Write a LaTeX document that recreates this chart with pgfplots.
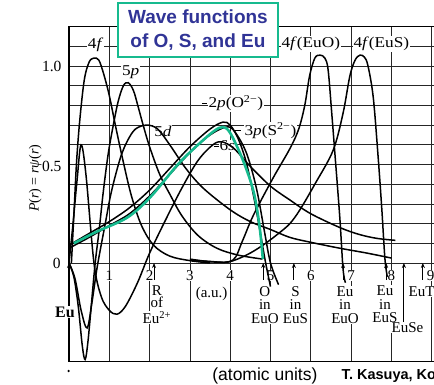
\documentclass[border=0pt]{standalone}
\usepackage{pgfplots}
\pgfplotsset{compat=1.18}
\usepackage{graphicx}
\usepackage{fontspec}
\setmainfont{Liberation Serif}
\newfontfamily\arial{Liberation Sans}
\usetikzlibrary{arrows.meta}
\definecolor{tealg}{RGB}{22,186,142}
\definecolor{tblue}{RGB}{48,52,150}
\newcommand\wide[1]{\scalebox{1.15}[1]{#1}}
\begin{document}
\begin{tikzpicture}
\begin{axis}[
  x=40.3pt, y=197pt,
  xmin=0, xmax=9.4, ymin=-0.5, ymax=1.2,
  xtick={0,1,2,3,4,5,6,7,8,9},
  ytick={0,0.1,0.2,0.3,0.4,0.5,0.6,0.7,0.8,0.9,1.0,1.1,1.2},
  xticklabels={}, yticklabels={},
  major tick length=0pt,
  grid=major,
  major grid style={black!85, line width=0.7pt},
  axis line style={black, line width=1.3pt},
  clip=false,
]
\coordinate (BL) at (axis cs:-1.712,-0.619);
\coordinate (TR) at (axis cs:9.057,1.335);

% ---- labels below axis
\pgfplotsinvokeforeach{1,...,8}{
  \node[fill=white, inner sep=0.5pt, font=\fontsize{15}{14}\selectfont] at (axis cs:#1,-0.064) {#1};
}
\node[fill=white, inner sep=0.5pt, anchor=west, font=\fontsize{15}{14}\selectfont] at (axis cs:8.86,-0.064) {9};
\node[anchor=east, font=\fontsize{15.5}{14}\selectfont] at (axis cs:-0.1,1.0) {1.0};
\node[anchor=east, font=\fontsize{15.5}{14}\selectfont] at (axis cs:-0.1,0.49) {0.5};
\node[anchor=east, font=\fontsize{15.5}{14}\selectfont] at (axis cs:-0.12,0.0) {0};
\node[fill=white, inner sep=0.3pt, anchor=north, align=center, font=\fontsize{15}{12}\selectfont] at (axis cs:2.18,-0.115) {R\\of};
\node[fill=white, inner sep=0.3pt, anchor=north, font=\fontsize{15}{12}\selectfont] at (axis cs:2.18,-0.245) {Eu\textsuperscript{2+}};
\node[fill=white, inner sep=0.5pt, font=\fontsize{15}{13.5}\selectfont] at (axis cs:3.54,-0.157) {(a.u.)};
\node[fill=white, inner sep=0.5pt, anchor=north, align=center, font=\fontsize{15}{13.5}\selectfont] at (axis cs:4.86,-0.115) {O\\in\\EuO};
\node[fill=white, inner sep=0.5pt, anchor=north, align=center, font=\fontsize{15}{13.5}\selectfont] at (axis cs:5.62,-0.115) {S\\in\\EuS};
\node[fill=white, inner sep=0.5pt, anchor=north, align=center, font=\fontsize{15}{13.5}\selectfont] at (axis cs:6.85,-0.115) {Eu\\in\\EuO};
\node[fill=white, inner sep=0.5pt, anchor=north, align=center, font=\fontsize{15}{13.5}\selectfont] at (axis cs:7.84,-0.113) {Eu\\in\\EuS};
\node[fill=white, inner sep=0.5pt, anchor=north, font=\fontsize{15}{13.5}\selectfont] at (axis cs:8.4,-0.3) {EuSe};
\node[fill=white, inner sep=0.5pt, anchor=north, font=\fontsize{15}{13.5}\selectfont] at (axis cs:8.82,-0.118) {EuTe};
\node[fill=white, inner sep=0.5pt, font=\bfseries\fontsize{16}{13.5}\selectfont] at (axis cs:-0.1,-0.249) {Eu};
\draw[black, line width=0.9pt] (axis cs:8.31,-0.3) -- (axis cs:8.31,-0.02);
\pgfplotsinvokeforeach{0,2.11,4.82,5.58,6.8,7.87,8.31,8.78}{
  \draw[black, line width=0.9pt, -{Stealth[length=5pt,width=4pt]}] (axis cs:#1,-0.085) -- (axis cs:#1,0.0);
}
\fill[black] (axis cs:-0.01,-0.548) circle (1.3pt);

% ---- curve labels
\node[fill=white, inner sep=0.8pt, font=\fontsize{15}{15}\selectfont] at (axis cs:0.66,1.11) {\wide{4\textit{f}}};
\node[fill=white, inner sep=0.8pt, font=\fontsize{15}{15}\selectfont] at (axis cs:1.53,0.967) {\wide{5\textit{p}}};
\node[fill=white, inner sep=0.8pt, font=\fontsize{15}{15}\selectfont] at (axis cs:2.33,0.67) {\wide{5\textit{d}}};
\node[fill=white, inner sep=0.8pt, font=\fontsize{15}{15}\selectfont] at (axis cs:4.14,0.812) {\wide{2\textit{p}(O\textsuperscript{2−})}};
\node[fill=white, inner sep=0.8pt, font=\fontsize{15}{15}\selectfont] at (axis cs:5.0,0.672) {\wide{3\textit{p}(S\textsuperscript{2−})}};
\node[fill=white, inner sep=0.6pt, font=\fontsize{15}{15}\selectfont] at (axis cs:3.93,0.594) {\wide{6\textit{s}}};
\node[fill=white, inner sep=0.8pt, font=\fontsize{15}{15}\selectfont] at (axis cs:6.0,1.112) {\wide{4\textit{f}(EuO)}};
\node[fill=white, inner sep=0.8pt, font=\fontsize{15}{15}\selectfont] at (axis cs:7.75,1.112) {\wide{4\textit{f}(EuS)}};
\draw[black, line width=0.9pt] (axis cs:3.3,0.812) -- (axis cs:3.42,0.812);
\draw[black, line width=0.9pt] (axis cs:4.1,0.672) -- (axis cs:4.27,0.672);
\draw[black, line width=0.9pt] (axis cs:3.6,0.594) -- (axis cs:3.72,0.594);

\node[rotate=90, font=\fontsize{14}{14}\selectfont] at (axis cs:-0.84,0.43) {\textit{P}(\textit{r}) = \textit{rψ}(\textit{r})};

% ---- curves
% 4f (Eu)
\addplot[black, line width=1.5pt, smooth, tension=0.55] coordinates {(0.06,0) (0.13,0.28) (0.19,0.52) (0.27,0.73) (0.38,0.93) (0.5,1.02) (0.62,1.04) (0.74,1.03) (0.86,0.96) (1.0,0.85) (1.15,0.7) (1.34,0.52) (1.55,0.34) (1.8,0.19) (2.1,0.09) (2.5,0.035) (3.0,0.012) (3.5,0.0)};
% 5p
\addplot[black, line width=1.5pt, smooth, tension=0.55] coordinates {(0.0,0.0) (0.12,-0.07) (0.23,-0.22) (0.33,-0.42) (0.4,-0.49) (0.47,-0.4) (0.56,-0.2) (0.65,0) (0.75,0.17) (0.85,0.36) (0.97,0.55) (1.09,0.69) (1.22,0.82) (1.35,0.9) (1.47,0.915) (1.6,0.875) (1.72,0.79) (1.84,0.70) (2.0,0.59) (2.25,0.45) (2.5,0.35) (2.8,0.24) (3.2,0.14) (3.67,0.075) (4.2,0.04) (4.8,0.02)};
% 5d
\addplot[black, line width=1.5pt, smooth, tension=0.55] coordinates {(0.0,0.0) (0.15,-0.08) (0.3,-0.24) (0.45,-0.33) (0.57,-0.2) (0.7,-0.02) (0.9,0.2) (1.05,0.36) (1.27,0.53) (1.45,0.62) (1.65,0.68) (1.93,0.70) (2.2,0.68) (2.5,0.6) (2.9,0.48) (3.33,0.38) (4.0,0.27) (4.5,0.21) (5.0,0.17) (5.48,0.13) (6.0,0.105) (6.72,0.075) (7.4,0.05) (8.0,0.025)};
% 6s
\addplot[black, line width=1.5pt, smooth, tension=0.55] coordinates {(0.0,0.0) (0.1,0.2) (0.2,0.42) (0.3,0.6) (0.42,0.45) (0.62,0.0) (0.8,-0.17) (1.0,-0.24) (1.19,-0.26) (1.4,-0.22) (1.7,-0.1) (2.0,0.05) (2.4,0.22) (2.8,0.38) (3.2,0.52) (3.57,0.6) (3.8,0.615) (4.1,0.58) (4.5,0.49) (5.0,0.39) (5.48,0.32) (6.0,0.25) (6.72,0.18) (7.2,0.145) (7.64,0.125) (8.1,0.115)};
% 2p(O2-)
\addplot[black, line width=1.5pt, smooth, tension=0.55] coordinates {(0.0,0.09) (0.5,0.15) (1.0,0.21) (1.5,0.28) (2.0,0.37) (2.5,0.48) (3.0,0.59) (3.5,0.68) (3.82,0.715) (4.0,0.70) (4.2,0.63) (4.4,0.51) (4.6,0.32) (4.75,0.15) (4.88,0.0) (5.0,-0.12)};
% 3p(S2-)
\addplot[black, line width=1.5pt, smooth, tension=0.55] coordinates {(0.0,0.075) (0.5,0.13) (1.0,0.19) (1.5,0.25) (2.0,0.34) (2.5,0.45) (3.0,0.56) (3.5,0.65) (3.9,0.69) (4.1,0.67) (4.4,0.56) (4.65,0.38) (4.85,0.16) (5.0,0.0) (5.2,-0.11)};
% 4f(EuO)
\addplot[black, line width=1.5pt, smooth, tension=0.55] coordinates {(3.0,0.02) (3.6,0.005) (4.07,0.015) (4.3,0.11) (4.57,0.24) (5.06,0.43) (5.48,0.58) (5.7,0.68) (5.85,0.8) (5.97,0.95) (6.1,1.04) (6.23,1.055) (6.35,1.04) (6.43,0.98) (6.52,0.76) (6.6,0.55) (6.72,0.23) (6.8,-0.03) (6.86,-0.1)};
% 4f(EuS)
\addplot[black, line width=1.5pt, smooth, tension=0.55] coordinates {(3.0,0.015) (3.5,0.008) (3.95,0.005) (4.4,0.04) (4.81,0.09) (5.2,0.15) (5.48,0.2) (5.73,0.27) (6.1,0.4) (6.55,0.57) (6.8,0.76) (6.97,0.95) (7.1,1.03) (7.22,1.055) (7.33,1.045) (7.42,1.0) (7.55,0.84) (7.67,0.54) (7.76,0.28) (7.84,0.02) (7.9,-0.07)};
% highlighted (teal) curve
\addplot[tealg, line width=2.6pt, smooth, tension=0.55] coordinates {(0.12,0.1) (0.7,0.16) (1.44,0.23) (2.0,0.33) (2.7,0.5) (3.2,0.6) (3.6,0.67) (3.82,0.69) (4.0,0.66) (4.3,0.53) (4.57,0.37) (4.72,0.2) (4.81,0.02)};

% ---- title box and footer
\node[draw=tealg, line width=1.4pt, fill=white, text=tblue, align=center,
      minimum width=160pt, minimum height=54pt, inner sep=2pt,
      font=\arial\bfseries\fontsize{19}{24}\selectfont]
  at (axis cs:3.2,1.183) {Wave functions\\of O, S, and Eu};
\node[font=\arial\fontsize{17.5}{18}\selectfont] at (axis cs:4.86,-0.571) {(atomic units)};
\node[anchor=west, font=\arial\bfseries\fontsize{14.5}{15}\selectfont] at (axis cs:6.68,-0.575) {T. Kasuya, Ko};
\end{axis}
\pgfresetboundingbox
\useasboundingbox (BL) rectangle (TR);
\end{tikzpicture}
\end{document}
